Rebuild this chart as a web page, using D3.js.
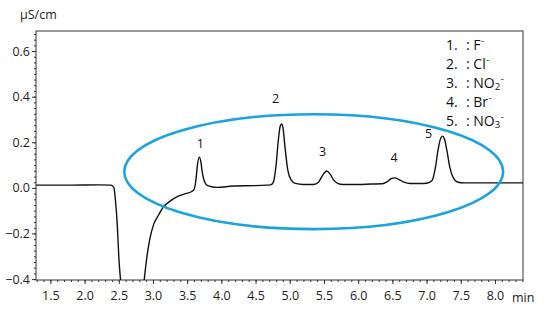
<!DOCTYPE html>
<html>
<head>
<meta charset="utf-8">
<script src="https://cdn.jsdelivr.net/npm/d3@7"></script>
<style>
  body { margin: 0; background: #fff; }
  svg { display: block; font-family: "Open Sans", sans-serif; }
</style>
</head>
<body>
<script>
// chromatogram trace (time in min, signal in µS/cm)
var traceTime = [1.29, 1.8, 2.2, 2.38, 2.41, 2.43, 2.45, 2.48, 2.50, 2.53, 2.56,
  2.78, 2.84, 2.87, 2.90, 2.95, 3.01, 3.08, 3.15, 3.25, 3.37, 3.48, 3.56,
  3.60, 3.63, 3.65, 3.677, 3.70, 3.72, 3.75, 3.80, 3.94, 4.17, 4.5, 4.66,
  4.72, 4.76, 4.80, 4.83, 4.86, 4.88, 4.90, 4.93, 4.97, 5.02, 5.08, 5.2,
  5.35, 5.42, 5.48, 5.54, 5.59, 5.64, 5.70, 5.78, 6.0, 6.2,
  6.35, 6.42, 6.48, 6.54, 6.60, 6.67, 6.76, 6.9,
  7.0, 7.08, 7.13, 7.17, 7.21, 7.235, 7.26, 7.30, 7.34, 7.39, 7.45, 7.55, 7.8, 8.1, 8.41];
var traceSignal = [0.012, 0.012, 0.013, 0.012, 0.008, 0.0, -0.05, -0.17, -0.3, -0.42, -0.55,
  -0.6, -0.5, -0.41, -0.33, -0.23, -0.16, -0.12, -0.085, -0.058, -0.036, -0.025, -0.017,
  -0.008, 0.04, 0.1, 0.135, 0.115, 0.07, 0.03, 0.01, 0.002, 0.008, 0.01, 0.012,
  0.013, 0.025, 0.1, 0.2, 0.27, 0.28, 0.265, 0.18, 0.08, 0.035, 0.02, 0.015,
  0.015, 0.025, 0.055, 0.074, 0.06, 0.035, 0.02, 0.015, 0.015, 0.017,
  0.018, 0.026, 0.04, 0.044, 0.036, 0.025, 0.019, 0.019,
  0.02, 0.032, 0.09, 0.17, 0.22, 0.227, 0.215, 0.16, 0.09, 0.045, 0.026, 0.022, 0.022, 0.022, 0.022];

// peak labels
var peakNames = ["1", "2", "3", "4", "5"];
var peakTime = [3.677, 4.88, 5.54, 6.54, 7.235];
var peakHeight = [0.135, 0.28, 0.074, 0.044, 0.227];

// legend
var legendNums = ["1.", "2.", "3.", "4.", "5."];
var legendIons = [["F", "", "-"], ["Cl", "", "-"], ["NO", "2", "-"], ["Br", "", "-"], ["NO", "3", "-"]];

// axes
var xTicks = [1.5, 2.0, 2.5, 3.0, 3.5, 4.0, 4.5, 5.0, 5.5, 6.0, 6.5, 7.0, 7.5, 8.0];
var yTicks = [-0.4, -0.2, 0.0, 0.2, 0.4, 0.6];
var yUnit = "µS/cm", xUnit = "min";

// highlight ellipse (centre time, centre signal, half-width min, half-height µS/cm)
var ellipseSpec = [5.35, 0.071, 2.77, 0.252];

var width = 554, height = 315;
var plotL = 36, plotR = 523, plotT = 31, plotB = 280;

var x = d3.scaleLinear().domain([1.29, 8.41]).range([plotL, plotR]);
var y = d3.scaleLinear().domain([-0.404, 0.688]).range([plotB, plotT]);

var svg = d3.select("body").append("svg")
  .attr("width", width)
  .attr("height", height);

svg.append("defs").append("clipPath").attr("id", "plot")
  .append("rect")
  .attr("x", plotL).attr("y", plotT)
  .attr("width", plotR - plotL).attr("height", plotB - plotT);

// minor ticks
var minorX = d3.range(13, 85).map(function(d) { return d / 10; });
svg.append("g")
  .attr("transform", "translate(0," + plotB + ")")
  .call(d3.axisBottom(x).tickValues(minorX).tickSize(2).tickFormat(""))
  .call(function(g) { g.select(".domain").remove(); });
var minorY = d3.range(-16, 28).map(function(d) { return d / 40; });
svg.append("g")
  .attr("transform", "translate(" + plotL + ",0)")
  .call(d3.axisLeft(y).tickValues(minorY).tickSize(2).tickFormat(""))
  .call(function(g) { g.select(".domain").remove(); });

var xAxis = svg.append("g")
  .attr("transform", "translate(0," + plotB + ")")
  .call(d3.axisBottom(x).tickValues(xTicks).tickSize(4).tickPadding(7).tickFormat(d3.format(".1f")));
var yAxis = svg.append("g")
  .attr("transform", "translate(" + plotL + ",0)")
  .call(d3.axisLeft(y).tickValues(yTicks).tickSize(4).tickPadding(2).tickFormat(d3.format(".1f")));

[xAxis, yAxis].forEach(function(g) {
  g.select(".domain").remove();
  g.selectAll("text").attr("font-size", 12.5).attr("fill", "#222");
  g.attr("font-family", null);
});
svg.selectAll(".tick line").attr("stroke", "#333");

svg.append("rect")
  .attr("x", plotL).attr("y", plotT)
  .attr("width", plotR - plotL).attr("height", plotB - plotT)
  .attr("fill", "none").attr("stroke", "#333").attr("stroke-width", 1);

svg.append("text")
  .attr("x", 20).attr("y", 19)
  .attr("font-size", 12.5).attr("fill", "#222")
  .text(yUnit);
svg.append("text")
  .attr("x", 512).attr("y", plotB + 22)
  .attr("font-size", 12.5).attr("fill", "#222")
  .text(xUnit);

// trace
var points = traceTime.map(function(t, i) { return [t, traceSignal[i]]; });
svg.append("path")
  .datum(points)
  .attr("clip-path", "url(#plot)")
  .attr("fill", "none")
  .attr("stroke", "#111")
  .attr("stroke-width", 1.4)
  .attr("d", d3.line()
    .x(function(d) { return x(d[0]); })
    .y(function(d) { return y(d[1]); })
    .curve(d3.curveMonotoneX));

// ellipse
svg.append("ellipse")
  .attr("cx", x(ellipseSpec[0]))
  .attr("cy", y(ellipseSpec[1]))
  .attr("rx", x(ellipseSpec[0] + ellipseSpec[2]) - x(ellipseSpec[0]))
  .attr("ry", y(ellipseSpec[1] - ellipseSpec[3]) - y(ellipseSpec[1]))
  .attr("fill", "none")
  .attr("stroke", "#1ba3dc")
  .attr("stroke-width", 2.6);

// peak labels, nudged to sit as in the original
var labelShift = [[1, -9], [-6, -21], [-4, -15], [-1, -16], [-14, 2]];
svg.append("g").selectAll("text")
  .data(peakNames)
  .join("text")
  .attr("x", function(d, i) { return x(peakTime[i]) + labelShift[i][0]; })
  .attr("y", function(d, i) { return y(peakHeight[i]) + labelShift[i][1]; })
  .attr("text-anchor", "middle")
  .attr("font-size", 12.5)
  .attr("fill", "#111")
  .text(function(d) { return d; });

// legend: sub/superscripts as separate small texts so rows don't collide
var legend = svg.append("g").attr("font-size", 14).attr("fill", "#111");
legendNums.forEach(function(num, i) {
  var yy = 50 + i * 19;
  legend.append("text").attr("x", 446).attr("y", yy).text(num);
  var main = legend.append("text").attr("x", 466).attr("y", yy).text(": " + legendIons[i][0]);
  var endX = 466 + main.node().getComputedTextLength();
  if (legendIons[i][1]) {
    var sub = legend.append("text").attr("x", endX).attr("y", yy + 2)
      .attr("font-size", 9.5).text(legendIons[i][1]);
    endX += sub.node().getComputedTextLength();
  }
  legend.append("text").attr("x", endX + 0.5).attr("y", yy - 6)
    .attr("font-size", 9.5).text(legendIons[i][2]);
});
</script>
</body>
</html>
